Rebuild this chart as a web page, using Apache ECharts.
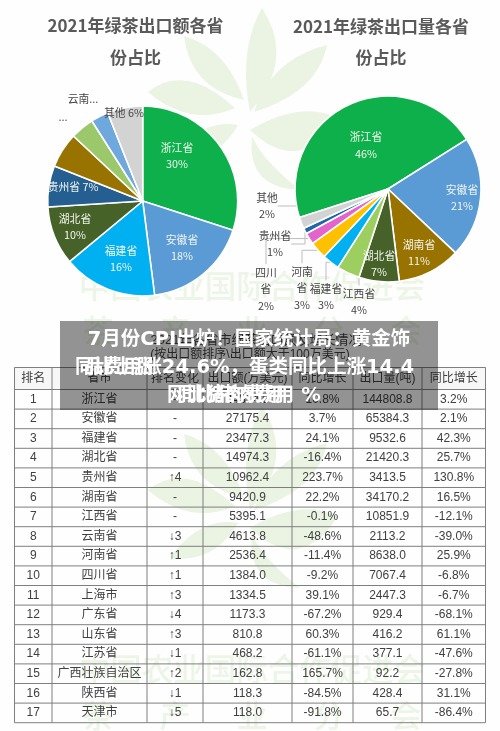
<!DOCTYPE html>
<html><head><meta charset="utf-8">
<style>html,body{margin:0;padding:0;background:#fff}#c{width:500px;height:731px;filter:blur(0.35px)}</style>
<script src="https://cdn.jsdelivr.net/npm/echarts@6/dist/echarts.min.js"></script>
</head><body><div id="c"></div>
<script>
// ---- data ----
const valueTitle = '2021年绿茶出口额各省\n份占比';
const valueNames = ['浙江省','安徽省','福建省','湖北省','贵州省','湖南省','江西省','云南省','其他'];
const valueShares = [30,18,16,10,7,6,4,3,6];
const volumeTitle = '2021年绿茶出口量各省\n份占比';
const volumeNames = ['浙江省','安徽省','湖南省','湖北省','江西省','福建省','河南省','四川省','贵州省','其他'];
const volumeShares = [46,21,11,7,4,3,3,2,1,2];

const tableHeaders = ['排名','省市','排名变化','出口额(万美元)','同比增长','出口量(吨)','同比增长'];
const ranks = [1,2,3,4,5,6,7,8,9,10,11,12,13,14,15,16,17];
const provinces = ['浙江省','安徽省','福建省','湖北省','贵州省','湖南省','江西省','云南省','河南省','四川省','上海市','广东省','山东省','江苏省','广西壮族自治区','陕西省','天津市'];
const rankChanges = ['-','-','-','-','↑4','-','-','↓3','↑1','↑1','↑3','↓4','↑3','↓1','↑2','↓1','↓5'];
const exportValues = ['44354.8','27175.4','23477.3','14974.3','10962.4','9420.9','5395.1','4613.8','2536.4','1384.0','1334.5','1173.3','810.8','468.2','162.8','118.3','118.0'];
const exportGrowth = ['10.8%','3.7%','24.1%','-16.4%','223.7%','22.2%','-0.1%','-48.6%','-11.4%','-9.2%','39.1%','-67.2%','60.3%','-61.1%','165.7%','-84.5%','-91.8%'];
const volumes = ['144808.8','65384.3','9532.6','21420.3','3413.5','34170.2','10851.9','2113.2','8638.0','7067.4','2447.3','929.4','416.2','377.1','92.2','428.4','65.7'];
const volumeGrowth = ['3.2%','2.1%','42.3%','25.7%','130.8%','16.5%','-12.1%','-39.0%','25.9%','-6.8%','-6.7%','-68.1%','61.1%','-47.6%','-27.8%','31.1%','-86.4%'];
const tableTitle = ['2021年各省市绿茶出口额及增长情况','(按出口额排序\\出口额大于100万美元)'];

const watermarkLine1 = '中国农业国际合作促进会';
const watermarkLine2 = ['茶','产','业','分','会'];
const overlayLines = ['7月份CPI出炉！国家统计局：黄金饰','品费用涨24.6%，蛋类同比上涨14.4','同比猪肉费用 %'];
const overlayGhosts = ['','同比上涨','网比猪肉费用'];

// ---- layout & style ----
const FONT = '"Noto Sans CJK SC","Liberation Sans",sans-serif';
const TFONT = '"Liberation Sans","Noto Sans CJK SC",sans-serif';
const OFONT = '"DejaVu Sans","Noto Sans CJK SC",sans-serif';
const valueColors = ['#0DB04B','#5B9BD5','#00B0F0','#466229','#255E91','#997300','#9CC86C','#6FA8DC','#D3D3D3'];
const volumeColors = ['#0DB04B','#5B9BD5','#997300','#466229','#9CCF5F','#00B0F0','#FFC000','#E264CC','#1F68AC','#D3D3D3'];
const valueLabels = [[177,156,1],[182,248,1],[121,259,1],[75,227,1],[73,187,2],[41,146,0],[63,117,0],[83,99,0],[124,113,0]];
const volumeLabels = [[366,145.5,1],[462,198,1],[419,253,1],[379,264,1],[359,302,0],[326,297,0],[302,288,0],[266,289,0],[275,244,0],[267,206,0]];
const volumeBreak = {河南省:'河南\n省',四川省:'四川\n省'};

function pie(names, vals, colors, labels, center, r, start, linesOn){
  return {
    type:'pie', center, radius:[0,r], startAngle:start, clockwise:true, z:3, animation:false, silent:true,
    data:names.map((n,i)=>({name:n,value:vals[i],itemStyle:{color:colors[i]},
      label:{color:labels[i][2]?'#F2F6EE':'#454545',position:labels[i][2]?'inside':'outside'},
      labelLine:{show:linesOn && i>=4 && !labels[i][2],lineStyle:{color:'#BDBDBD',width:1}}})),
    itemStyle:{borderColor:'#fff',borderWidth:1.6},
    label:{fontFamily:FONT,fontSize:10.8,lineHeight:16.5,
      formatter:p=>{
        const mode=labels[p.dataIndex][2], nm=volumeBreak[p.name]&&linesOn?volumeBreak[p.name]:p.name;
        if(linesOn) return nm+'\n'+p.value+'%';
        return mode===1? nm+'\n'+p.value+'%' : nm+' '+p.value+'%';
      }},
    labelLayout:p=>({x:labels[p.dataIndex][0],y:labels[p.dataIndex][1],align:'center',verticalAlign:'middle',hideOverlap:false}),
    emphasis:{disabled:true}
  };
}

const G=[];
const LEAF='#EBF4E3';
// leaf outline: base, bulge, tip, bulge
const leaves=[
 [250,112,238,50,262,8,296,60],
 [254,112,270,60,327,45,318,92],
 [250,130,300,100,338,118,300,178],
 [252,136,262,160,300,190,246,188],
 [235,108,185,62,148,92,190,128],
 [244,100,226,48,184,36,190,88],
 [238,125,200,118,170,160,214,166]
];
function leafPoints(l,dy){
  const [bx,by,ax,ay,tx,ty,cx,cy]=l, pts=[];
  const q=(x0,y0,x1,y1,x2,y2,t)=>[(1-t)*(1-t)*x0+2*t*(1-t)*x1+t*t*x2,(1-t)*(1-t)*y0+2*t*(1-t)*y1+t*t*y2+dy];
  for(let k=0;k<10;k++)pts.push(q(bx,by,ax,ay,tx,ty,k/10));
  for(let k=0;k<10;k++)pts.push(q(tx,ty,cx,cy,bx,by,k/10));
  return pts;
}
[0,398].forEach(dy=>leaves.forEach(l=>{
  G.push({type:'polygon',z:0,silent:true,shape:{points:leafPoints(l,dy)},style:{fill:LEAF}});
}));
[[286,330],[669,715]].forEach(([a,b])=>{
  G.push({type:'text',z:0,silent:true,x:252,y:a,style:{text:watermarkLine1,fill:'#EDF5E6',font:'500 31.5px '+FONT,textAlign:'center',textVerticalAlign:'middle'}});
  watermarkLine2.forEach((t,i)=>G.push({type:'text',z:0,silent:true,x:98+i*77,y:b,style:{text:t,fill:'#EDF5E6',font:'500 31px '+FONT,textAlign:'center',textVerticalAlign:'middle'}}));
});

// table
const colX=[14.5,52,147,203,292,353,422,485.5];
const headTop=367.5, headBottom=389.5, rowH=19.6;
const rowY=i=>headBottom+rowH*i;
const rows=ranks.map((r,i)=>[String(r),provinces[i],rankChanges[i],exportValues[i],exportGrowth[i],volumes[i],volumeGrowth[i]]);
const bottom=rowY(rows.length);
const LINE='#7F7F7F';
G.push({type:'rect',z:1,silent:true,shape:{x:colX[0],y:headTop,width:colX[7]-colX[0],height:headBottom-headTop},style:{fill:'rgba(240,240,240,0.55)'}});
for(let i=0;i<=rows.length;i++) G.push({type:'line',z:1,silent:true,shape:{x1:colX[0],y1:rowY(i),x2:colX[7],y2:rowY(i)},style:{stroke:LINE,lineWidth:1}});
G.push({type:'line',z:1,silent:true,shape:{x1:colX[0],y1:headTop,x2:colX[7],y2:headTop},style:{stroke:LINE,lineWidth:1}});
colX.forEach(x=>G.push({type:'line',z:1,silent:true,shape:{x1:x,y1:headTop,x2:x,y2:bottom},style:{stroke:LINE,lineWidth:1}}));
const cx=j=>(colX[j]+colX[j+1])/2;
tableHeaders.forEach((t,j)=>G.push({type:'text',z:2,silent:true,x:cx(j),y:(headTop+headBottom)/2,style:{text:t,fill:'#404040',font:'12px '+TFONT,textAlign:'center',textVerticalAlign:'middle'}}));
rows.forEach((row,i)=>row.forEach((t,j)=>G.push({type:'text',z:2,silent:true,x:cx(j),y:rowY(i)+rowH/2,style:{text:t,fill:'#404040',font:'12px '+TFONT,textAlign:'center',textVerticalAlign:'middle'}})));
G.push({type:'text',z:2,silent:true,x:256,y:340,style:{text:tableTitle[0],fill:'#404040',font:'13px '+TFONT,textAlign:'center',textVerticalAlign:'middle'}});
G.push({type:'text',z:2,silent:true,x:250,y:355,style:{text:tableTitle[1],fill:'#404040',font:'12px '+TFONT,textAlign:'center',textVerticalAlign:'middle'}});

// overlay
G.push({type:'rect',z:20,silent:true,shape:{x:60,y:321,width:378,height:89},style:{fill:'rgba(0,0,0,0.42)'}});
const ovY=[340,368,396];
overlayLines.forEach((t,i)=>G.push({type:'text',z:21,silent:true,x:249,y:ovY[i],style:{text:t,fill:'#fff',font:'bold 19.5px '+OFONT,textAlign:'center',textVerticalAlign:'middle'}}));
G.push({type:'text',z:21,silent:true,x:75,y:ovY[1],style:{text:overlayGhosts[1],fill:'#fff',font:'bold 19.5px '+OFONT,textAlign:'left',textVerticalAlign:'middle'}});
G.push({type:'text',z:21,silent:true,x:167,y:ovY[2],style:{text:overlayGhosts[2],fill:'#fff',font:'bold 19.5px '+OFONT,textAlign:'left',textVerticalAlign:'middle'}});

const chart=echarts.init(document.getElementById('c'));
chart.setOption({
  backgroundColor:'#FEFEFE', animation:false,
  title:[
    {text:valueTitle,left:130.5,top:5,textAlign:'center',textStyle:{fontFamily:FONT,fontSize:17,fontWeight:'bold',color:'#5A5A5A',lineHeight:32}},
    {text:volumeTitle,left:376,top:6,textAlign:'center',textStyle:{fontFamily:FONT,fontSize:17,fontWeight:'bold',color:'#5A5A5A',lineHeight:31}}
  ],
  series:[
    pie(valueNames,valueShares,valueColors,valueLabels,[142.7,201],95,90,false),
    pie(volumeNames,volumeShares,volumeColors,volumeLabels,[388,189],93,197.8,true)
  ],
  graphic:{elements:G}
});
</script></body></html>
